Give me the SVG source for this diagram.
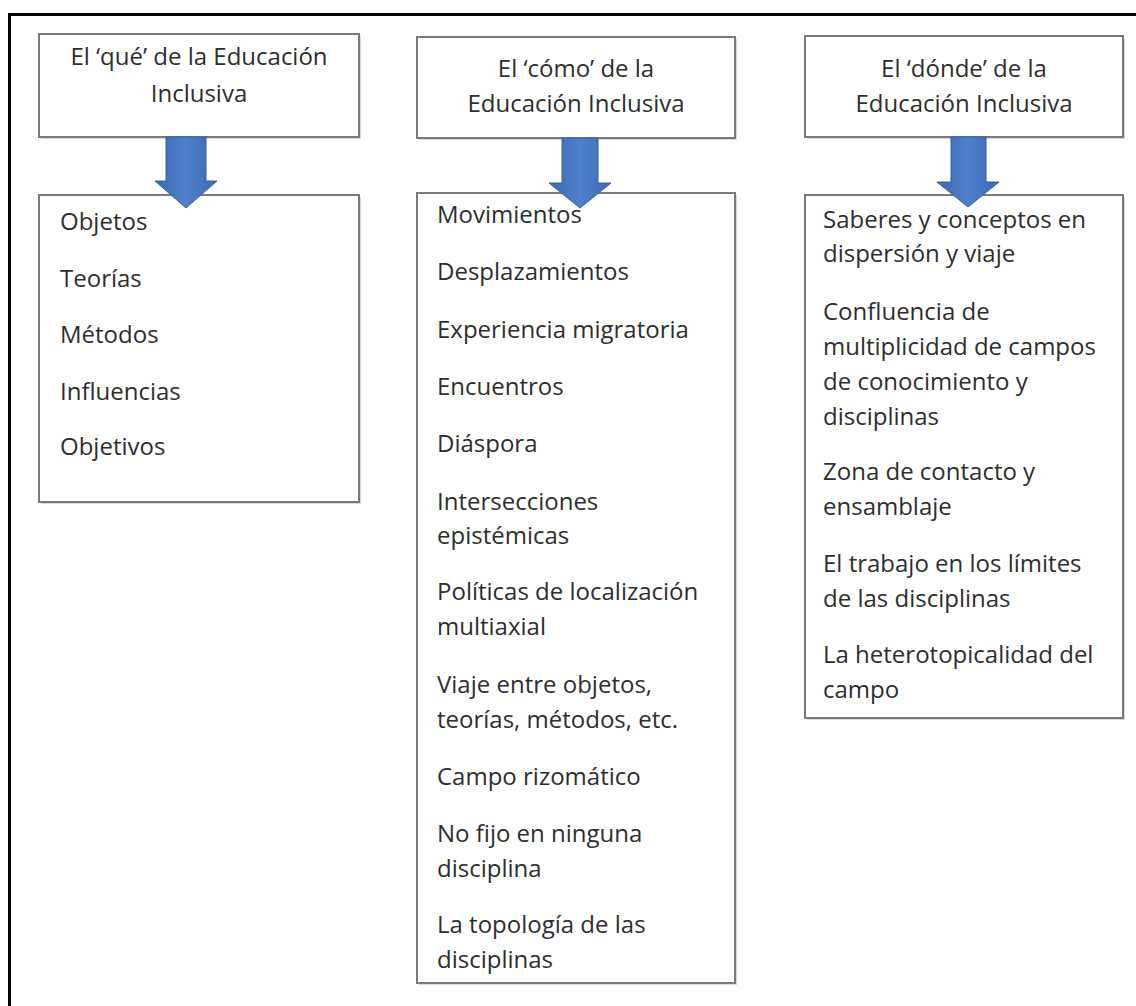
<svg xmlns="http://www.w3.org/2000/svg" width="1136" height="1006" viewBox="0 0 1136 1006">
<style>
.box{fill:#ffffff;stroke:#7a7a7a;stroke-width:2}
.shadow{fill:#d9d9d9}
.t{font-family:"Open Sans","Liberation Sans",sans-serif;font-size:24px;fill:#2e2e2e}
.h{text-anchor:middle}
.frame{stroke:#000;stroke-width:3;fill:none}
.arrow{fill:url(#ag);stroke:#35609f;stroke-width:1}
</style>
<defs>
<linearGradient id="ag" x1="0" y1="0" x2="1" y2="0">
<stop offset="0" stop-color="#3c69b3"/>
<stop offset="0.5" stop-color="#4f80cb"/>
<stop offset="1" stop-color="#3c69b3"/>
</linearGradient>
</defs>
<rect x="0" y="0" width="1136" height="1006" fill="#ffffff"/>
<path class="frame" d="M9.5,1006 V14.5 H1136"/>

<g id="node-que-header">
<rect class="shadow" x="41" y="36" width="320" height="103"/>
<rect class="box" x="39" y="34" width="320" height="103"/>
<text class="t h" x="199" y="65">El ‘qué’ de la Educación</text>
<text class="t h" x="199" y="102">Inclusiva</text>
</g>
<g id="node-como-header">
<rect class="shadow" x="419" y="39" width="318" height="101"/>
<rect class="box" x="417" y="37" width="318" height="101"/>
<text class="t h" x="576" y="77">El ‘cómo’ de la</text>
<text class="t h" x="576" y="112">Educación Inclusiva</text>
</g>
<g id="node-donde-header">
<rect class="shadow" x="807" y="38" width="318" height="101"/>
<rect class="box" x="805" y="36" width="318" height="101"/>
<text class="t h" x="964" y="77">El ‘dónde’ de la</text>
<text class="t h" x="964" y="112">Educación Inclusiva</text>
</g>

<g id="node-que-list">
<rect class="shadow" x="41" y="197" width="320" height="307"/>
<rect class="box" x="39" y="195" width="320" height="307"/>
<text class="t" x="60" y="230">Objetos</text>
<text class="t" x="60" y="287">Teorías</text>
<text class="t" x="60" y="343">Métodos</text>
<text class="t" x="60" y="400">Influencias</text>
<text class="t" x="60" y="455">Objetivos</text>
</g>
<g id="node-como-list">
<rect class="shadow" x="419" y="195" width="318" height="790"/>
<rect class="box" x="417" y="193" width="318" height="790"/>
<text class="t" x="437" y="223">Movimientos</text>
<text class="t" x="437" y="280">Desplazamientos</text>
<text class="t" x="437" y="338">Experiencia migratoria</text>
<text class="t" x="437" y="395">Encuentros</text>
<text class="t" x="437" y="452">Diáspora</text>
<text class="t" x="437" y="510">Intersecciones</text>
<text class="t" x="437" y="544">epistémicas</text>
<text class="t" x="437" y="600">Políticas de localización</text>
<text class="t" x="437" y="635">multiaxial</text>
<text class="t" x="437" y="693">Viaje entre objetos,</text>
<text class="t" x="437" y="728">teorías, métodos, etc.</text>
<text class="t" x="437" y="785">Campo rizomático</text>
<text class="t" x="437" y="842">No fijo en ninguna</text>
<text class="t" x="437" y="877">disciplina</text>
<text class="t" x="437" y="933">La topología de las</text>
<text class="t" x="437" y="968">disciplinas</text>
</g>
<g id="node-donde-list">
<rect class="shadow" x="807" y="197" width="318" height="523"/>
<rect class="box" x="805" y="195" width="318" height="523"/>
<text class="t" x="823" y="228">Saberes y conceptos en</text>
<text class="t" x="823" y="262">dispersión y viaje</text>
<text class="t" x="823" y="320">Confluencia de</text>
<text class="t" x="823" y="355">multiplicidad de campos</text>
<text class="t" x="823" y="390">de conocimiento y</text>
<text class="t" x="823" y="425">disciplinas</text>
<text class="t" x="823" y="480">Zona de contacto y</text>
<text class="t" x="823" y="515">ensamblaje</text>
<text class="t" x="823" y="572">El trabajo en los límites</text>
<text class="t" x="823" y="607">de las disciplinas</text>
<text class="t" x="823" y="663">La heterotopicalidad del</text>
<text class="t" x="823" y="698">campo</text>
</g>

<g id="connectors">
<path class="arrow" d="M166,137 H206 V181 H217 L186,208 L155,181 H166 Z"/>
<path class="arrow" d="M562,138 H598 V183 H611 L580,208 L549,183 H562 Z"/>
<path class="arrow" d="M951,137 H986 V182 H999 L968,207 L937,182 H951 Z"/>
</g>
</svg>
